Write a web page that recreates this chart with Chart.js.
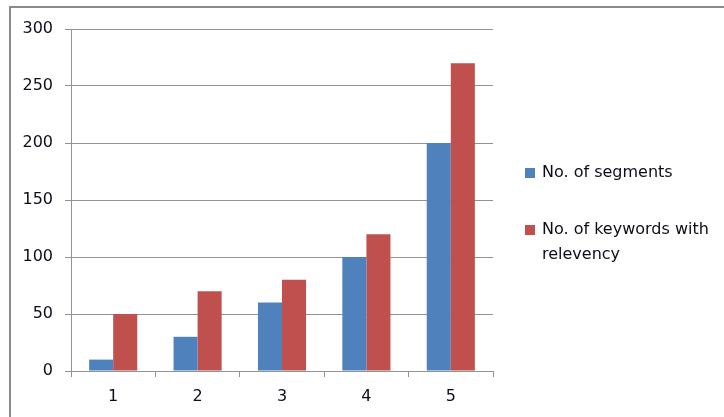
<!DOCTYPE html>
<html>
<head>
<meta charset="utf-8">
<script src="https://cdn.jsdelivr.net/npm/chart.js@4"></script>
<style>
  body { margin: 0; background: #fff; }
  #wrap { width: 724px; height: 417px; position: relative; }
</style>
</head>
<body>
<div id="wrap"><canvas id="chart" width="724" height="417"></canvas></div>
<script>
const categories = ['1', '2', '3', '4', '5']
const segments = [10, 30, 60, 100, 200]
const keywords = [50, 70, 80, 120, 270]
const seriesNames = ['No. of segments', 'No. of keywords with relevency']

const FONT = '"DejaVu Sans", Verdana, sans-serif'
const GRID = '#939393'

// frame + wrapped legend on the right, like the excel export
const sideLegend = {
  id: 'sideLegend',
  beforeDraw(chart) {
    const ctx = chart.ctx
    ctx.save()
    ctx.strokeStyle = '#8a8a8a'
    ctx.lineWidth = 2
    ctx.beginPath()
    ctx.moveTo(10, 417)
    ctx.lineTo(10, 7)
    ctx.lineTo(724, 7)
    ctx.stroke()
    ctx.restore()
  },
  afterDraw(chart) {
    const ctx = chart.ctx
    ctx.save()
    ctx.font = '16px ' + FONT
    ctx.textBaseline = 'middle'
    const x = 525, tx = 542, maxW = 180
    let y = 173
    chart.data.datasets.forEach((ds) => {
      const words = ds.label.split(' ')
      const lines = []
      let cur = ''
      words.forEach((w) => {
        const test = cur ? cur + ' ' + w : w
        if (ctx.measureText(test).width > maxW && cur) {
          lines.push(cur)
          cur = w
        } else cur = test
      })
      lines.push(cur)
      ctx.fillStyle = ds.backgroundColor
      ctx.fillRect(x, y - 5, 10, 10)
      ctx.fillStyle = '#0d0d1a'
      lines.forEach((l, i) => ctx.fillText(l, tx, y + i * 25))
      y += 57
    })
    ctx.restore()
  }
}

new Chart(document.getElementById('chart'), {
  type: 'bar',
  data: {
    labels: categories,
    datasets: [
      { label: seriesNames[0], data: segments, backgroundColor: '#4f81bd' },
      { label: seriesNames[1], data: keywords, backgroundColor: '#c0504d' }
    ]
  },
  options: {
    responsive: false,
    animation: false,
    layout: { padding: { top: 29, right: 231, left: 0, bottom: 0 } },
    datasets: { bar: { categoryPercentage: 0.57, barPercentage: 1 } },
    plugins: { legend: { display: false }, tooltip: { enabled: false } },
    scales: {
      x: {
        offset: true,
        grid: { offset: true, drawOnChartArea: false, color: GRID, tickLength: 6 },
        border: { color: GRID, width: 1 },
        ticks: { color: '#0d0d1a', font: { family: FONT, size: 16 }, padding: 10 },
        afterFit: (s) => { s.height = 46 }
      },
      y: {
        min: 0,
        max: 300,
        ticks: { stepSize: 50, color: '#0d0d1a', font: { family: FONT, size: 16 }, padding: 12 },
        grid: { color: GRID, tickLength: 6 },
        border: { color: GRID, width: 1 },
        afterFit: (s) => { s.width = 71 }
      }
    }
  },
  plugins: [sideLegend]
})
</script>
</body>
</html>
